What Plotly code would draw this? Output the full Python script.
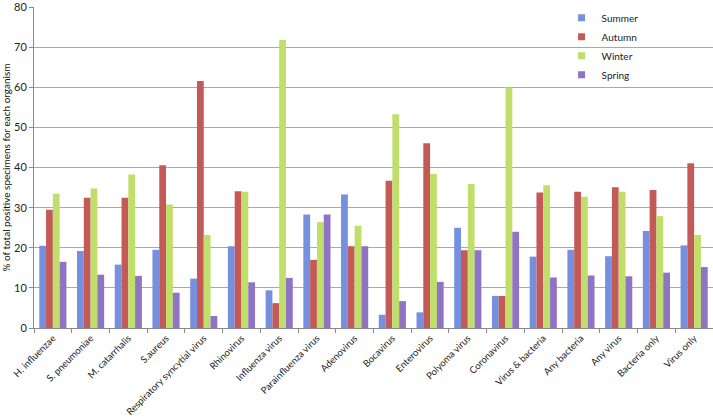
import plotly.graph_objects as go

categories = ["H. influenzae", "S. pneumoniae", "M. catarrhalis", "S.aureus",
              "Respiratory syncytial virus", "Rhinovirus", "Influenza virus",
              "Parainfluenza virus", "Adenovirus", "Bocavirus", "Enterovirus",
              "Polyoma virus", "Coronavirus", "Virus & bacteria", "Any bacteria",
              "Any virus", "Bacteria only", "Virus only"]

summer = [20.5, 19.2, 15.8, 19.5, 12.3, 20.4, 9.4, 28.3, 33.3, 3.3, 3.9, 25.0, 8.0, 17.8, 19.5, 17.9, 24.2, 20.6]
autumn = [29.5, 32.5, 32.5, 40.6, 61.6, 34.1, 6.2, 17.0, 20.4, 36.7, 46.1, 19.4, 8.0, 33.8, 34.0, 35.1, 34.4, 41.1]
winter = [33.5, 34.8, 38.3, 30.8, 23.2, 34.0, 71.8, 26.4, 25.5, 53.3, 38.4, 35.9, 60.0, 35.6, 32.7, 34.0, 27.9, 23.2]
spring = [16.5, 13.3, 13.0, 8.8, 3.0, 11.4, 12.5, 28.3, 20.4, 6.7, 11.5, 19.4, 24.0, 12.6, 13.1, 12.9, 13.8, 15.2]

series = [("Summer", summer, "#7590df"), ("Autumn", autumn, "#c45a58"),
          ("Winter", winter, "#bfdf6a"), ("Spring", spring, "#8f74c6")]

FONT = "Lato, 'Open Sans', sans-serif"

fig = go.Figure()
for name, vals, col in series:
    fig.add_trace(go.Bar(x=categories, y=vals, name=name, showlegend=False,
                         marker=dict(color=col, line=dict(width=0))))
for name, vals, col in series:
    fig.add_trace(go.Scatter(x=[None], y=[None], name=name, mode="markers",
                             marker=dict(symbol="square", size=7, color=col)))

fig.update_layout(
    width=713, height=418,
    margin=dict(l=34, r=0, t=7, b=90, autoexpand=False),
    paper_bgcolor="white", plot_bgcolor="white",
    barmode="group", bargap=0.28, bargroupgap=0,
    font=dict(family=FONT, size=11, color="#222"),
    showlegend=True,
    legend=dict(x=0.777, y=1.012, xanchor="left", yanchor="top",
                bgcolor="rgba(0,0,0,0)", font=dict(size=10, color="#222"),
                tracegroupgap=0, itemwidth=30),
    xaxis=dict(tickangle=-45, tickfont=dict(size=9.5, color="#222"),
               showline=True, linecolor="#888", linewidth=1,
               ticks="outside", tickson="boundaries", ticklen=4, tickcolor="#888",
               showgrid=False),
    yaxis=dict(range=[0, 80.05], tickvals=[0, 10, 20, 30, 40, 50, 60, 70, 80],
               showgrid=True, gridcolor="#a8a8a8", ticklabeloverflow="allow",
               gridwidth=1, showline=True, linecolor="#888", linewidth=1,
               ticks="outside", ticklen=4, tickcolor="#888",
               tickfont=dict(size=11, color="#222"), zeroline=False,
               title=dict(text="% of total positive specimens for each organism",
                          font=dict(size=10, color="#111"), standoff=6)),
)

fig.write_html("out.html", config={"displayModeBar": False},
               post_script="document.body.style.margin='0';")
